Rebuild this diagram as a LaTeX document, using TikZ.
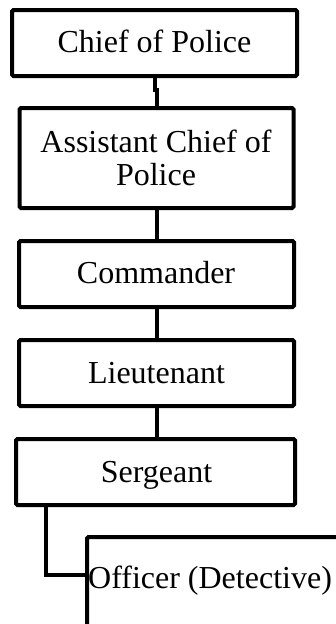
\documentclass[tikz,border=0pt]{standalone}
\usepackage{fontspec}
\setmainfont{Liberation Serif}
\begin{document}
\begin{tikzpicture}[x=1pt,y=-1pt,
  box/.style={draw, line width=4pt, rounded corners=1.5pt, inner sep=0pt},
  lbl/.style={inner sep=0pt, anchor=base, font=\fontsize{32}{33}\selectfont},
  conn/.style={line width=4pt}]
\useasboundingbox (0,0) rectangle (336,624);
\clip (0,0) rectangle (336,624);
% boxes
\node[box, minimum width=285pt, minimum height=66pt] (b1) at (154.5,43) {};
\node[box, minimum width=274pt, minimum height=100pt] (b2) at (156.5,158) {};
\node[box, minimum width=275pt, minimum height=66pt] (b3) at (156.5,274) {};
\node[box, minimum width=275pt, minimum height=66pt] (b4) at (156.5,373) {};
\node[box, minimum width=279pt, minimum height=66pt] (b5) at (155.5,472) {};
\node[box, minimum width=263pt, minimum height=123pt] (off) at (218.5,598.5) {};
% labels
\node[lbl] (t1) at (154.5,52) {Chief of Police};
\node[lbl] (t2a) at (156,152) {Assistant Chief of};
\node[lbl] (t2b) at (156,185) {Police};
\node[lbl] (t3) at (156,283) {Commander};
\node[lbl] (t4) at (156.5,383) {Lieutenant};
\node[lbl] (t5) at (156.5,482) {Sergeant};
\node[lbl, anchor=base west] (t6) at (88,588) {Officer (Detective)};
% connectors
\draw[conn] (b1.south) -- ++(0,12) -| (b2.north);
\draw[conn] (b2.south) -- (b3.north);
\draw[conn] (b3.south) -- (b4.north);
\draw[conn] (b4.south) -- (b4.south |- b5.north);
\coordinate (ej) at ([xshift=32pt]b5.south west);
\coordinate (ee) at (off.west |- 0,575);
\draw[conn] (ej) |- (ee);
\end{tikzpicture}
\end{document}
